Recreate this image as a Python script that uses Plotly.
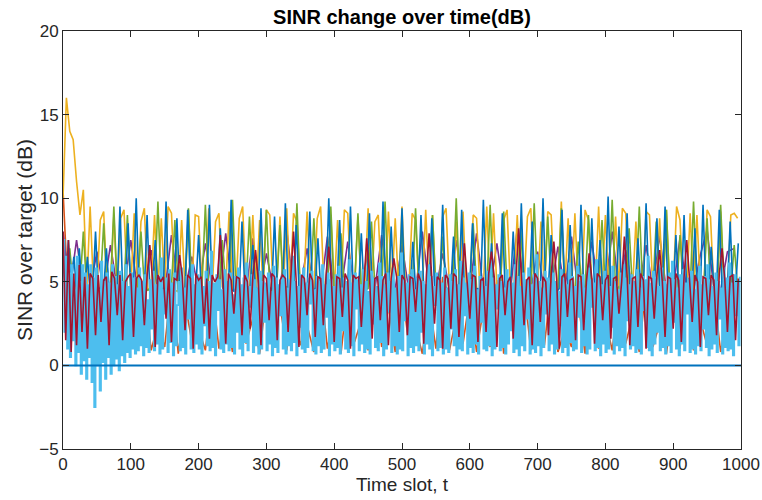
import plotly.graph_objects as go

# SINR over target (dB) per user; every series spans slots 0..999
light_blue = [
    7.5, 2.0, 6.5, 1.0, 5.5, 0.5, 6.0, 1.5, 4.5, 0.0, 6.5, 0.8, 5.0, -0.5, 6.0, 0.3, 5.5, -0.8, 4.8, 0.5,
    6.0, -1.0, 5.2, -2.5, 5.8, 0.0, 4.5, -1.5, 6.2, 0.2, 5.0, -0.8, 5.5, 0.5, 4.9, -0.5, 6.0, 0.0, 5.3, 0.4,
    4.8, -0.3, 5.6, 0.6, 5.0, 0.2, 6.0, 0.8, 4.7, 0.5, 5.5, 1.0, 5.2, 0.7, 4.6, 0.9, 5.8, 1.2, 5.0, 0.6,
    5.4, 1.1, 3.9, 0.8, 5.1, 2.2, 5.6, 0.9, 4.8, 1.3, 5.3, 0.7, 6.4, 1.0, 4.5, 3.1, 5.2, 0.8, 5.7, 1.4,
    4.9, 0.6, 5.5, 1.2, 3.6, 5.0, 0.9, 5.8, 1.1, 4.6, 0.7, 5.3, 2.8, 5.1, 1.0, 6.0, 0.8, 4.8, 1.3, 5.4,
    1.0, 5.2, 0.7, 4.7, 2.4, 5.6, 1.2, 5.0, 0.9, 6.8, 1.1, 4.9, 0.6, 5.4, 3.3, 5.1, 1.0, 4.5, 0.8, 5.7,
    1.3, 5.0, 0.9, 5.5, 1.1, 4.2, 0.7, 5.3, 2.0, 5.8, 1.0, 4.8, 0.6, 5.2, 1.4, 6.1, 0.9, 4.7, 3.5, 5.4,
    0.8, 5.1, 1.2, 4.6, 0.7, 5.6, 1.0, 5.0, 2.6, 4.9, 0.9, 5.5, 1.3, 4.4, 0.6, 5.9, 1.1, 5.2, 0.8, 4.8,
    3.0, 5.3, 1.0, 5.7, 0.7, 4.6, 1.2, 5.1, 0.9, 6.5, 1.4, 5.0, 0.6, 4.7, 2.3, 5.4, 1.0, 5.8, 0.8, 4.9,
    1.1, 5.2, 3.7, 5.6, 0.9, 4.5, 0.7, 5.3, 1.2, 5.0, 0.8, 6.0, 1.0, 4.8, 2.9, 5.5, 0.6, 5.1, 1.3, 4.7,
    0.9, 5.4, 1.1, 5.9, 0.7, 4.6, 2.1, 5.2, 1.0, 5.0, 0.8, 6.3, 1.2, 4.9, 0.6, 5.5, 3.4, 5.1, 0.9, 4.8,
    1.3, 5.7, 0.8, 5.0, 1.0, 4.4, 0.7, 5.6, 2.5, 5.2, 1.1, 4.7, 0.9, 6.1, 1.4, 5.3, 0.6, 4.8, 1.0, 5.5,
    3.2, 5.0, 0.8, 5.8, 1.2, 4.6, 0.7, 5.3, 1.0, 6.7, 0.9, 5.1, 2.7, 4.9, 0.6, 5.4, 1.1, 5.7, 0.8, 4.5,
    1.2, 5.2, 0.9, 5.6, 2.0, 5.0, 0.7, 4.8, 1.3, 6.0, 1.0, 5.3, 0.6, 4.7, 3.6, 5.5, 0.9, 5.1, 1.1, 4.9,
    0.7, 5.8, 1.0, 4.6, 0.8, 5.4, 2.2, 5.0, 1.2, 5.7, 0.6, 4.8, 1.0, 6.2, 0.9, 5.2, 3.0, 4.9, 0.7, 5.5,
    1.1, 5.1, 0.8, 5.9, 1.3, 4.5, 0.7, 5.3, 2.6, 5.0, 1.0, 4.7, 0.9, 5.6, 1.2, 6.4, 0.6, 5.2, 1.0, 4.8,
    3.4, 5.4, 0.9, 5.0, 1.1, 4.6, 0.7, 5.7, 1.3, 5.2, 2.1, 4.9, 0.8, 6.0, 1.0, 5.3, 0.6, 4.7, 1.2, 5.5,
    0.9, 5.1, 2.8, 5.8, 0.7, 4.8, 1.0, 5.4, 0.8, 6.6, 1.2, 5.0, 0.6, 4.6, 1.1, 5.6, 3.1, 5.2, 0.9, 4.9,
    1.3, 5.5, 0.7, 5.0, 1.0, 4.4, 2.4, 5.7, 0.8, 5.2, 1.1, 4.8, 0.6, 6.1, 1.4, 5.3, 0.9, 4.7, 1.0, 5.9,
    2.9, 5.0, 0.8, 5.4, 1.2, 4.6, 0.7, 5.8, 1.0, 5.1, 3.5, 4.9, 0.9, 6.3, 1.1, 5.2, 0.6, 4.8, 1.3, 5.6,
    0.8, 5.3, 1.0, 4.7, 2.3, 5.9, 0.7, 5.0, 1.2, 4.5, 0.9, 5.5, 1.1, 6.0, 0.6, 5.2, 2.7, 4.8, 1.0, 5.4,
    1.2, 5.0, 0.8, 5.7, 1.0, 4.6, 0.7, 5.3, 3.3, 5.1, 1.1, 6.5, 0.9, 4.9, 0.6, 5.6, 1.3, 5.2, 2.0, 4.7,
    0.9, 5.8, 1.1, 5.0, 0.7, 4.8, 1.2, 5.5, 0.8, 6.2, 2.6, 5.1, 1.0, 4.6, 0.6, 5.4, 1.3, 5.7, 0.9, 4.9,
    3.1, 5.2, 0.8, 5.6, 1.0, 4.5, 0.7, 5.0, 1.2, 5.9, 0.9, 4.8, 2.2, 5.3, 1.1, 6.0, 0.6, 5.1, 1.0, 4.7,
    1.3, 5.5, 0.8, 5.0, 2.8, 4.6, 0.7, 5.8, 1.1, 5.2, 0.9, 6.1, 1.0, 4.9, 0.6, 5.4, 3.0, 5.0, 1.2, 5.3,
]

dark_red = [
    8.0, 1.5, 7.5, 0.8, 5.5, 1.2, 6.0, 2.0, 5.3, 1.0, 5.5, 5.2, 1.8, 5.4, 2.6, 5.1, 5.3, 1.2, 5.6, 5.2, 3.0, 5.4, 1.5, 5.0, 5.3,
    5.5, 1.7, 5.2, 5.4, 5.1, 2.4, 5.3, 7.2, 5.2, 1.1, 5.4, 5.0, 5.3, 2.8, 5.5, 1.4, 5.2, 5.1, 6.6, 5.3, 2.1, 5.4, 5.2, 1.0, 5.5,
    5.1, 5.3, 2.5, 5.2, 1.6, 5.4, 5.0, 5.3, 7.8, 5.2, 1.3, 5.5, 5.1, 3.1, 5.3, 5.2, 1.8, 5.4, 5.0, 2.2, 5.3, 6.9, 5.1, 1.2, 5.4,
    5.2, 2.7, 5.5, 5.3, 1.5, 5.1, 5.4, 5.2, 2.0, 5.3, 8.0, 5.0, 1.1, 5.4, 5.2, 3.0, 5.5, 5.1, 1.7, 5.3, 5.2, 2.4, 5.4, 7.1, 5.0,
    1.4, 5.3, 5.2, 2.9, 5.5, 5.1, 1.0, 5.4, 5.2, 5.3, 2.3, 5.0, 7.6, 5.4, 1.6, 5.2, 5.3, 2.7, 5.1, 5.5, 1.2, 5.2, 6.4, 5.3, 2.0,
    5.4, 5.1, 1.8, 5.3, 5.2, 3.2, 5.5, 5.0, 1.3, 5.4, 7.9, 5.2, 2.5, 5.3, 5.1, 1.0, 5.4, 5.2, 2.2, 5.5, 5.3, 1.7, 5.0, 7.3, 5.2,
    2.8, 5.4, 5.3, 1.4, 5.1, 5.2, 2.0, 5.5, 6.8, 5.3, 1.1, 5.2, 5.4, 3.0, 5.0, 5.3, 1.6, 5.2, 8.2, 5.4, 2.4, 5.1, 5.3, 1.2, 5.5,
    5.2, 2.6, 5.3, 5.0, 1.8, 5.4, 7.4, 5.2, 1.0, 5.3, 5.5, 2.9, 5.1, 5.2, 1.5, 5.4, 5.3, 2.1, 5.0, 6.7, 5.2, 1.3, 5.5, 5.3, 2.7,
    5.1, 5.4, 1.6, 5.2, 5.3, 3.1, 5.0, 7.7, 5.4, 1.2, 5.2, 5.3, 2.3, 5.5, 5.1, 1.0, 5.3, 5.2, 2.8, 5.4, 6.9, 5.0, 1.7, 5.3, 5.2,
    2.2, 5.5, 5.1, 1.4, 5.3, 7.5, 5.2, 2.6, 5.4, 5.0, 1.1, 5.3, 5.2, 3.0, 5.4, 5.1, 1.8, 5.5, 7.0, 5.2, 2.0, 5.3, 5.4, 1.5, 5.2,
]

blue = [
    6.0, 4.5, 7.5, 4.8, 6.5, 4.5, 7.0, 4.6, 4.5, 6.5, 4.4, 4.6, 8.0, 4.5, 4.7, 4.5, 7.0, 4.6, 4.5, 4.8, 4.5, 9.5, 4.6, 4.5, 8.5,
    4.5, 4.7, 10.0, 4.5, 4.6, 4.4, 9.0, 4.5, 4.6, 7.5, 4.5, 4.7, 4.5, 9.8, 4.6, 4.5, 4.4, 8.8, 4.5, 4.6, 4.5, 9.3, 4.7, 4.5, 4.6,
    7.8, 4.5, 4.6, 4.4, 9.6, 4.5, 4.7, 4.5, 8.2, 4.6, 4.5, 4.5, 9.9, 4.4, 4.6, 4.5, 8.6, 4.7, 4.5, 4.6, 7.2, 4.5, 4.4, 9.4, 4.6,
    4.5, 4.7, 4.5, 8.9, 4.6, 4.5, 4.4, 9.7, 4.5, 4.6, 4.5, 8.4, 4.7, 4.5, 4.6, 4.5, 9.2, 4.4, 4.6, 7.6, 4.5, 4.7, 4.5, 10.0, 4.6,
    4.5, 4.4, 8.7, 4.6, 4.5, 4.7, 9.5, 4.5, 4.6, 4.5, 7.9, 4.4, 4.6, 9.1, 4.5, 4.7, 4.5, 4.6, 9.8, 4.5, 4.4, 8.3, 4.6, 4.5, 4.7,
    9.4, 4.5, 4.6, 4.4, 7.4, 4.5, 4.7, 9.0, 4.6, 4.5, 4.5, 8.8, 4.6, 4.4, 4.5, 9.6, 4.7, 4.5, 4.6, 7.7, 4.5, 4.4, 9.3, 4.6, 4.5,
    4.7, 8.5, 4.5, 4.6, 4.4, 9.9, 4.5, 4.6, 7.3, 4.5, 4.7, 4.5, 9.1, 4.6, 4.4, 4.5, 8.0, 4.6, 4.5, 9.7, 4.7, 4.5, 4.4, 8.6, 4.6,
    4.5, 4.5, 10.0, 4.6, 4.7, 7.8, 4.5, 4.4, 4.6, 9.3, 4.5, 4.6, 8.4, 4.5, 4.7, 4.4, 9.6, 4.5, 4.6, 4.5, 8.8, 4.6, 4.5, 7.5, 4.4,
    4.6, 10.1, 4.5, 4.7, 4.5, 8.3, 4.6, 4.4, 9.1, 4.5, 4.6, 4.5, 7.6, 4.7, 4.5, 9.7, 4.6, 4.4, 4.5, 8.8, 4.6, 4.5, 9.5, 4.7, 4.5,
    4.4, 7.8, 4.6, 4.5, 9.0, 4.5, 4.7, 4.6, 8.2, 4.4, 4.5, 9.6, 4.6, 4.5, 7.1, 4.7, 4.5, 9.3, 4.6, 4.4, 4.5, 8.6, 4.6, 4.5, 7.3,
]

yellow = [
    10.0, 16.0, 14.0, 13.5, 11.0, 9.0, 10.5, 4.5, 9.5, 4.6, 4.5, 8.7, 9.2, 4.5, 4.6, 9.0, 4.4, 8.8, 9.3, 4.5,
    4.6, 9.1, 4.5, 8.6, 9.4, 4.5, 4.7, 9.0, 4.5, 8.8, 4.6, 9.5, 9.1, 4.5, 4.4, 8.7, 4.6, 9.3, 4.5, 9.0,
    8.9, 4.5, 4.6, 9.4, 4.5, 8.6, 9.1, 4.7, 4.5, 9.2, 4.6, 4.4, 8.8, 9.5, 4.5, 4.6, 9.0, 4.5, 8.7, 4.6,
    9.3, 9.0, 4.5, 4.6, 8.9, 4.4, 9.4, 4.5, 9.1, 8.6, 4.6, 4.5, 9.2, 4.7, 4.5, 8.8, 9.5, 4.5, 4.6, 9.0,
    4.4, 8.7, 4.6, 9.3, 9.1, 4.5, 4.6, 8.9, 4.5, 4.7, 9.4, 4.5, 8.6, 9.0, 4.5, 4.6, 9.2, 4.4, 8.8, 4.5,
    9.5, 4.6, 4.5, 9.1, 8.7, 4.5, 4.6, 9.3, 4.5, 9.0, 4.7, 4.5, 8.9, 9.4, 4.6, 4.5, 8.6, 4.5, 9.2, 4.6,
    4.5, 9.0, 8.8, 4.4, 4.6, 9.5, 4.5, 9.1, 4.6, 4.5, 8.7, 9.3, 4.5, 4.6, 9.0, 4.5, 4.7, 8.9, 9.4, 4.5,
    4.6, 8.6, 4.5, 9.2, 9.0, 4.5, 4.6, 9.8, 4.5, 8.8, 4.4, 9.1, 4.6, 4.5, 9.3, 8.7, 4.5, 4.6, 9.5, 4.5,
    9.0, 4.6, 4.5, 8.9, 4.5, 9.4, 9.1, 4.7, 4.5, 8.6, 4.6, 4.5, 9.2, 9.0, 4.5, 4.6, 8.8, 4.5, 9.3, 4.4,
    4.6, 9.5, 8.7, 4.5, 4.6, 9.1, 4.5, 9.0, 4.6, 4.5, 9.3, 8.9, 4.5, 4.6, 9.2, 4.5, 4.4, 9.0, 9.1, 8.8,
]

green = [
    6.5, 4.5, 7.0, 4.6, 4.5, 4.7, 8.0, 4.5, 4.6, 4.4, 4.5, 4.6, 8.5, 4.5, 4.7, 9.5, 4.5, 4.4, 4.6, 9.0,
    4.5, 4.6, 4.5, 8.0, 4.7, 4.5, 4.6, 4.4, 9.8, 4.5, 4.6, 4.5, 4.7, 8.7, 4.5, 4.4, 4.6, 9.4, 4.5, 4.6,
    4.5, 4.7, 9.6, 4.5, 4.4, 4.6, 4.5, 7.5, 4.6, 4.5, 9.9, 4.7, 4.5, 4.4, 4.6, 8.9, 4.5, 4.6, 4.5, 4.7,
    9.3, 4.5, 4.4, 4.6, 8.4, 4.5, 4.7, 4.5, 4.6, 9.7, 4.4, 4.5, 4.6, 4.5, 8.8, 4.7, 4.5, 4.6, 4.4, 9.5,
    4.5, 4.6, 7.9, 4.5, 4.7, 4.4, 4.6, 9.1, 4.5, 4.5, 4.6, 8.6, 4.7, 4.5, 4.4, 9.8, 4.6, 4.5, 4.5, 4.7,
    8.1, 4.5, 4.6, 4.4, 9.4, 4.5, 4.7, 4.6, 4.5, 9.0, 4.5, 4.4, 7.7, 4.6, 4.5, 4.7, 10.0, 4.5, 4.6, 4.4,
    4.5, 8.5, 4.6, 4.5, 4.7, 4.5, 9.6, 4.4, 4.6, 4.5, 9.2, 4.5, 4.7, 4.6, 4.4, 8.3, 4.5, 4.6, 4.5, 9.7,
    4.6, 4.5, 4.4, 8.9, 4.7, 4.5, 4.6, 9.4, 4.5, 4.4, 4.6, 4.5, 7.4, 4.7, 4.5, 9.0, 4.6, 4.4, 4.5, 8.7,
    4.5, 4.6, 9.9, 4.5, 4.7, 4.4, 4.6, 8.2, 4.5, 4.5, 9.5, 4.6, 4.7, 4.4, 4.5, 8.6, 4.6, 4.5, 9.3, 4.5,
    4.7, 4.4, 7.8, 4.6, 4.5, 4.5, 9.8, 4.6, 4.7, 4.4, 8.8, 4.5, 4.6, 4.5, 9.6, 4.7, 4.4, 4.5, 7.2, 4.6,
]

purple = [
    8.0, 4.5, 7.5, 4.6, 4.5, 6.8, 4.5, 7.2, 4.6, 4.5,
    7.5, 4.5, 4.6, 6.9, 4.5, 4.4, 7.8, 4.6, 4.5, 6.5,
    4.5, 7.3, 4.6, 4.5, 7.9, 4.5, 4.6, 4.4, 7.6, 4.5,
    6.7, 4.6, 4.5, 8.1, 4.5, 4.6, 7.0, 4.5, 4.4, 7.7,
    4.6, 4.5, 7.4, 4.5, 4.6, 6.9, 4.5, 7.8, 4.5, 4.6,
    7.2, 4.5, 4.4, 8.0, 4.6, 4.5, 6.7, 4.5, 7.5, 4.6,
    4.5, 7.9, 4.5, 4.6, 7.3, 4.4, 4.5, 8.2, 4.6, 4.5,
    6.8, 4.5, 4.6, 7.1, 4.5, 7.7, 4.4, 4.6, 7.4, 4.5,
    4.6, 8.0, 4.5, 6.9, 4.5, 4.6, 7.2, 4.5, 7.8, 4.4,
    4.6, 7.6, 4.5, 4.5, 6.6, 8.1, 4.6, 4.5, 6.8, 7.0,
]

orange = [
    10.5, 2.0, 5.5, 1.0, 4.0, 0.0, 3.5, 1.2, 4.5, 0.8,
    3.0, 1.5, 4.8, 0.9, 2.5, 1.1, 5.0, 0.7, 3.8, 1.4,
    2.2, 0.9, 4.6, 1.0, 3.2, 0.8, 5.1, 1.3, 2.8, 0.7,
    4.2, 1.1, 3.6, 0.9, 5.2, 1.2, 2.4, 0.8, 4.9, 1.0,
    3.1, 0.7, 4.4, 1.4, 2.7, 0.9, 5.0, 1.1, 3.5, 0.8,
    4.7, 1.2, 2.3, 0.7, 3.9, 1.0, 5.3, 0.9, 2.9, 1.3,
    4.1, 0.8, 3.4, 1.1, 5.1, 0.7, 2.6, 1.0, 4.6, 0.9,
    3.3, 1.2, 4.8, 0.8, 2.1, 1.1, 3.7, 0.7, 5.2, 1.0,
    2.8, 0.9, 4.3, 1.3, 3.0, 0.8, 4.9, 1.1, 2.5, 0.7,
    3.8, 1.0, 5.0, 0.9, 2.7, 1.2, 4.4, 0.8, 3.2, 1.1,
]

target = [0, 0]

# drawing order follows what sits on top in the picture; the dense light-blue
# band is drawn as steps so it fills solid like the 1000-slot original
series = [
    (orange, "#D95319", 1.6, "linear"),
    (purple, "#7E2F8E", 1.6, "linear"),
    (yellow, "#EDB120", 1.6, "linear"),
    (green, "#77AC30", 1.6, "linear"),
    (blue, "#0072BD", 1.6, "linear"),
    (light_blue, "#4DBEEE", 1.8, "hv"),
    (dark_red, "#A2142F", 1.6, "linear"),
]

fig = go.Figure()
for ys, col, w, shape in series:
    step = 1000 / len(ys)
    slots = [i * step for i in range(len(ys))]
    fig.add_trace(go.Scatter(x=slots, y=ys, mode="lines", line=dict(color=col, width=w, shape=shape),
                             showlegend=False, hoverinfo="skip"))
fig.add_trace(go.Scatter(x=[0, 1000], y=target, mode="lines", line=dict(color="#0072BD", width=2),
                         showlegend=False, hoverinfo="skip"))

font = "Liberation Sans, Arial"
axis = dict(showline=True, linecolor="#262626", linewidth=1, mirror="ticks", ticks="inside",
            ticklen=6, tickcolor="#262626", showgrid=False, zeroline=False, automargin=False,
            tickfont=dict(family=font, size=17, color="#262626"))

fig.update_layout(
    width=762, height=500,
    margin=dict(l=63, r=21, t=31, b=51),
    plot_bgcolor="white", paper_bgcolor="white",
    title=dict(text="<b>SINR change over time(dB)</b>", x=0.5, xref="paper", xanchor="center",
               y=0.967, yref="container", yanchor="middle",
               font=dict(family=font, size=20, color="black")),
    xaxis=dict(axis, range=[0, 1000], tickvals=list(range(0, 1001, 100)),
               title=dict(text="Time slot, t", standoff=0,
                          font=dict(family=font, size=19, color="#262626"))),
    yaxis=dict(axis, range=[-5, 20], tickvals=[-5, 0, 5, 10, 15, 20],
               title=dict(text="SINR over target (dB)", standoff=0,
                          font=dict(family=font, size=21, color="#262626"))),
)

# the page's default body margin would shift the 762x500 figure by 8px
fig.write_html("out.html", config={"displayModeBar": False},
               post_script="document.body.style.margin = '0';")
